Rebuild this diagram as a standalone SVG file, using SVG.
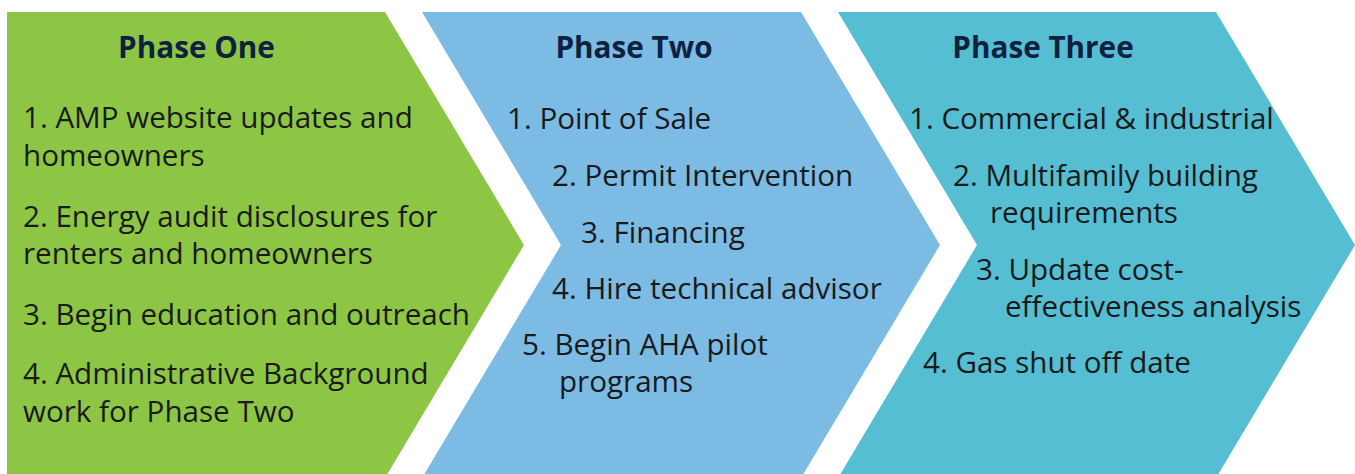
<svg xmlns="http://www.w3.org/2000/svg" width="1355" height="474" viewBox="0 0 1355 474">
<style>
.title{font-family:"Open Sans","Noto Sans","Liberation Sans",sans-serif;font-weight:700;font-size:29.7px;fill:#0E2240;text-anchor:middle}
.item{font-family:"Open Sans","Noto Sans","Liberation Sans",sans-serif;font-weight:400;font-size:29.6px;fill:#1A1A1A}
</style>
<rect width="1355" height="474" fill="#FFFFFF"/>
<g id="phase-one">
<path d="M7,12 L385,12 L524,245 L385,478 L7,478 Z" fill="#8DC645"/>
<text class="title" x="196.5" y="58">Phase One</text>
<text class="item" x="23" y="128">1. AMP website updates and</text>
<text class="item" x="23" y="166">homeowners</text>
<text class="item" x="23" y="227">2. Energy audit disclosures for</text>
<text class="item" x="23" y="264">renters and homeowners</text>
<text class="item" x="23" y="325">3. Begin education and outreach</text>
<text class="item" x="23" y="384">4. Administrative Background</text>
<text class="item" x="23" y="422">work for Phase Two</text>
</g>
<g id="phase-two">
<path d="M422,12 L801,12 L940,245 L801,478 L422,478 L561,245 Z" fill="#7BBBE4"/>
<text class="title" x="634" y="58">Phase Two</text>
<text class="item" x="507" y="129">1. Point of Sale</text>
<text class="item" x="552" y="186">2. Permit Intervention</text>
<text class="item" x="581" y="243">3. Financing</text>
<text class="item" x="552" y="299">4. Hire technical advisor</text>
<text class="item" x="522" y="355">5. Begin AHA pilot</text>
<text class="item" x="559" y="392">programs</text>
</g>
<g id="phase-three">
<path d="M838,12 L1216,12 L1355,245 L1216,478 L838,478 L977,245 Z" fill="#55BED2"/>
<text class="title" x="1043" y="58">Phase Three</text>
<text class="item" x="909" y="129">1. Commercial &amp; industrial</text>
<text class="item" x="953" y="186">2. Multifamily building</text>
<text class="item" x="990" y="223">requirements</text>
<text class="item" x="976" y="280">3. Update cost-</text>
<text class="item" x="1005" y="317">effectiveness analysis</text>
<text class="item" x="923" y="373">4. Gas shut off date</text>
</g>
<g id="connectors"></g>
</svg>
